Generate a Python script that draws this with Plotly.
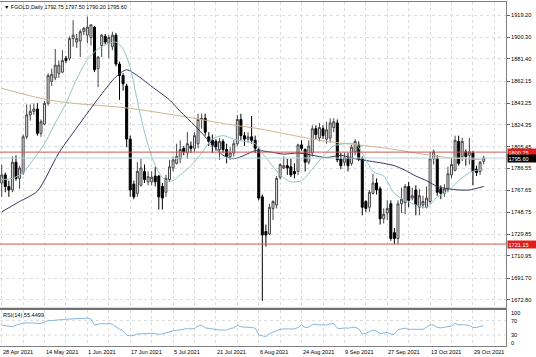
import plotly.graph_objects as go

# ---------------- data ----------------
opens = [
    1774, 1781, 1771, 1768, 1792, 1778, 1783, 1814, 1833, 1836,
    1838, 1817, 1825, 1843, 1862, 1865, 1869, 1870, 1882, 1882,
    1899, 1896, 1897, 1905, 1902, 1900, 1909, 1873, 1893, 1901,
    1895, 1892, 1902, 1877, 1867, 1858, 1812, 1773, 1765, 1772,
    1784, 1775, 1775, 1780, 1780, 1771, 1766, 1777, 1787, 1791,
    1795, 1804, 1800, 1806, 1804, 1808, 1829, 1830, 1814, 1811,
    1810, 1803, 1810, 1803, 1797, 1800, 1808, 1829, 1815, 1812,
    1814, 1811, 1803, 1762, 1732, 1730, 1752, 1755, 1779, 1787,
    1789, 1788, 1784, 1784, 1807, 1803, 1792, 1800, 1821, 1813,
    1821, 1812, 1813, 1822, 1826, 1795, 1792, 1796, 1791, 1801,
    1807, 1795, 1758, 1753, 1765, 1774, 1769, 1743, 1748, 1756,
    1731, 1726, 1756, 1757, 1771, 1761, 1768, 1753, 1755, 1753,
    1758, 1795, 1795, 1769, 1765, 1768, 1781, 1785, 1810, 1797,
    1801, 1798, 1800, 1786, 1784, 1792.75]
highs = [
    1790, 1783, 1776, 1797, 1798, 1789, 1816, 1842, 1842, 1843,
    1843, 1829, 1845, 1869, 1873, 1890, 1880, 1889, 1884, 1901,
    1915, 1903, 1907, 1909, 1918, 1911, 1910, 1884, 1903, 1903,
    1902, 1905, 1904, 1879, 1869, 1860, 1815, 1776, 1792, 1795,
    1790, 1784, 1784, 1788, 1781, 1774, 1781, 1794, 1797, 1808,
    1811, 1806, 1818, 1810, 1818, 1834, 1834, 1834, 1818, 1816,
    1812, 1813, 1812, 1808, 1805, 1811, 1833, 1834, 1818, 1818,
    1832, 1815, 1805, 1764, 1738, 1756, 1759, 1780, 1791, 1797,
    1795, 1795, 1791, 1808, 1811, 1804, 1811, 1824, 1824, 1826,
    1824, 1827, 1830, 1830, 1829, 1800, 1800, 1800, 1807, 1812,
    1810, 1797, 1759, 1768, 1782, 1778, 1771, 1752, 1759, 1759,
    1735, 1759, 1770, 1773, 1775, 1770, 1772, 1769, 1763, 1771,
    1801, 1803, 1798, 1772, 1773, 1788, 1796, 1815, 1815, 1813,
    1803, 1813, 1802, 1789, 1793, 1797.50]
lows = [
    1762, 1766, 1762, 1766, 1776, 1769, 1781, 1812, 1828, 1833,
    1815, 1814, 1824, 1841, 1858, 1863, 1865, 1869, 1878, 1880,
    1892, 1891, 1883, 1902, 1895, 1893, 1870, 1857, 1883, 1894,
    1882, 1889, 1875, 1846, 1854, 1805, 1762, 1760, 1762, 1771,
    1774, 1772, 1772, 1771, 1751, 1751, 1762, 1775, 1784, 1790,
    1791, 1798, 1795, 1800, 1801, 1804, 1821, 1815, 1806, 1800,
    1802, 1794, 1800, 1791, 1794, 1797, 1806, 1811, 1806, 1809,
    1808, 1800, 1759, 1672, 1719, 1729, 1742, 1752, 1777, 1786,
    1781, 1779, 1778, 1781, 1802, 1784, 1790, 1797, 1812, 1810,
    1812, 1808, 1809, 1818, 1792, 1786, 1789, 1784, 1789, 1798,
    1793, 1746, 1749, 1749, 1764, 1764, 1738, 1739, 1742, 1724,
    1721, 1721, 1748, 1747, 1753, 1759, 1746, 1746, 1752, 1752,
    1756, 1790, 1763, 1760, 1762, 1766, 1778, 1784, 1789, 1793,
    1789, 1790, 1772, 1780, 1781, 1790.20]
closes = [
    1781, 1771, 1768, 1792, 1778, 1787, 1814, 1833, 1836, 1838,
    1817, 1827, 1843, 1867, 1868, 1876, 1876, 1880, 1880, 1899,
    1902, 1899, 1905, 1908, 1909, 1911, 1872, 1883, 1902, 1896,
    1900, 1902, 1877, 1867, 1860, 1812, 1768, 1762, 1784, 1787,
    1777, 1779.5, 1779, 1775, 1762, 1761, 1778, 1788, 1794, 1797,
    1803, 1801, 1808, 1804, 1815, 1829, 1830, 1818, 1810, 1807,
    1805.5, 1810, 1803, 1797, 1800, 1808, 1829, 1815, 1812, 1814,
    1811, 1804, 1761, 1729, 1729, 1753, 1758, 1778, 1790, 1789,
    1787, 1781, 1782, 1807, 1804, 1792, 1806, 1821, 1816, 1822,
    1815, 1820, 1826, 1827, 1794, 1789, 1796, 1789, 1805, 1810,
    1795, 1753, 1752, 1766, 1774, 1768, 1743, 1747, 1752, 1726,
    1726, 1756, 1760, 1771, 1759, 1763, 1755, 1763, 1758, 1761,
    1795, 1801, 1766, 1765, 1769, 1782, 1790, 1811, 1791, 1810,
    1797, 1801, 1784, 1783, 1792, 1795.60]

# moving-average lines (bar index, price)
fast_i = [0, 3, 6, 9, 12, 15, 18, 21, 24, 27, 30, 32, 34, 36, 38, 40, 42, 44, 46, 48,
          50, 53, 56, 59, 62, 65, 68, 71, 73, 75, 78, 81, 84, 87, 90, 93, 96, 99, 101,
          104, 107, 110, 113, 116, 119, 122, 125, 128, 131, 133, 135]
fast_v = [1777, 1778, 1783, 1795, 1808, 1826, 1843, 1864, 1881, 1890, 1895, 1896, 1890,
          1874, 1845, 1818, 1797, 1783, 1776, 1776, 1781, 1789, 1800, 1812, 1815, 1812,
          1810, 1808, 1800, 1792, 1781, 1775, 1776, 1786, 1797, 1806, 1808, 1808, 1800,
          1784, 1780, 1765, 1759, 1755, 1753, 1762, 1767, 1776, 1783, 1785, 1786]
slow_i = [0, 5, 10, 16, 22, 27, 32, 35, 38, 41, 44, 47, 50, 54, 57, 60, 62, 65, 68, 71,
          75, 79, 83, 87, 91, 95, 99, 103, 107, 110, 113, 116, 119, 122, 125, 128, 131, 135]
slow_v = [1749, 1758, 1767, 1800, 1826, 1847, 1866, 1872, 1867, 1860, 1853, 1846, 1836,
          1824, 1814, 1804, 1798, 1795, 1798, 1802, 1801, 1799, 1800, 1798, 1796, 1798,
          1795, 1793, 1791, 1789, 1785, 1780, 1776, 1771, 1769, 1768, 1768, 1771]
long_i = [0, 6, 13, 20, 35, 54, 63, 72, 89, 108, 116, 125, 135]
long_v = [1856, 1851, 1846, 1843, 1839, 1830, 1825, 1821, 1811, 1804, 1800, 1796, 1794]

rsi = [58, 56, 54, 53, 57, 61, 63, 64, 64, 64,
       62, 62, 66, 70, 70, 72, 72, 73, 74, 75,
       76, 75, 76, 76, 77, 74, 58, 60, 62, 61,
       62, 60, 52, 46, 42, 30, 28, 29, 33, 34,
       34, 35, 35, 34, 32, 33, 36, 40, 42, 43,
       45, 46, 48, 47, 48, 55, 57, 50, 48, 47,
       46, 44, 44, 44, 48, 50, 57, 53, 52, 52,
       51, 49, 31, 28, 26, 34, 38, 44, 46, 47,
       47, 46, 47, 51, 58, 51, 52, 59, 60, 58,
       58, 58, 61, 62, 49, 48, 50, 49, 51, 52,
       47, 33, 35, 40, 44, 41, 34, 36, 38, 33,
       32, 45, 46, 49, 46, 47, 46, 46, 46, 52,
       58, 58, 51, 50, 51, 54, 55, 62, 58, 59,
       57, 57, 51, 51, 54, 55.4499]

date_ticks = [0, 12, 24, 36, 48, 60, 72, 84, 96, 108, 120, 132]
date_labels = ["28 Apr 2021", "14 May 2021", "1 Jun 2021", "17 Jun 2021", "5 Jul 2021",
               "21 Jul 2021", "6 Aug 2021", "24 Aug 2021", "9 Sep 2021", "27 Sep 2021",
               "13 Oct 2021", "29 Oct 2021"]
grid_ticks = list(range(0, 142, 6))
price_ticks = [1919.20, 1900.30, 1881.40, 1862.15, 1843.25, 1824.35, 1805.45,
               1786.55, 1767.65, 1748.75, 1729.85, 1710.95, 1691.70, 1672.80]
levels = [1800.75, 1721.15]
rsi_levels = [70, 30]

# ---------------- figure ----------------
n = len(closes)
bars = list(range(n))
FONT = "Liberation Sans, Arial, sans-serif"
FS = 5.6

fig = go.Figure()
fig.add_trace(go.Candlestick(
    x=bars, open=opens, high=highs, low=lows, close=closes,
    increasing=dict(line=dict(color="#474747", width=1), fillcolor="#e2e2e2"),
    decreasing=dict(line=dict(color="#000000", width=1), fillcolor="#000000"),
    whiskerwidth=0, hoverinfo="skip", showlegend=False, xaxis="x", yaxis="y"))

for xs, ys, col in [(long_i, long_v, "#ccb491"),
                    (slow_i, slow_v, "#35355a"),
                    (fast_i, fast_v, "#94c4c4")]:
    fig.add_trace(go.Scatter(x=xs, y=ys, mode="lines",
                             line=dict(color=col, width=1, shape="spline", smoothing=0.7),
                             hoverinfo="skip", showlegend=False, xaxis="x", yaxis="y"))

fig.add_trace(go.Scatter(x=bars, y=rsi, mode="lines",
                         line=dict(color="#88b6da", width=1),
                         hoverinfo="skip", showlegend=False, xaxis="x2", yaxis="y2"))

shapes = []
for lv in levels:
    shapes.append(dict(type="line", xref="paper", x0=0, x1=1, yref="y", y0=lv, y1=lv,
                       line=dict(color="#c85a55", width=1), layer="above"))
shapes.append(dict(type="line", xref="paper", x0=0, x1=1, yref="y",
                   y0=closes[-1], y1=closes[-1],
                   line=dict(color="#b9d3dc", width=1), layer="above"))
for lv in rsi_levels:
    shapes.append(dict(type="line", xref="paper", x0=0, x1=1, yref="y2", y0=lv, y1=lv,
                       line=dict(color="#dadada", width=1, dash="dot"), layer="below"))
# separator between the two panels
shapes.append(dict(type="line", xref="paper", x0=0, x1=1, yref="paper",
                   y0=0.1081, y1=0.1081, line=dict(color="#6f6f6f", width=2)))

ann = []
ann.append(dict(xref="paper", yref="paper", x=0, y=1, xanchor="left", yanchor="top",
                xshift=2, yshift=0, showarrow=False,
                text="▼ FGOLD,Daily %.2f %.2f %.2f %.2f" % (opens[-1], highs[-1], lows[-1], closes[-1]),
                font=dict(family=FONT, size=5.4, color="#000000")))
ann.append(dict(xref="paper", yref="paper", x=0, y=0.1055, xanchor="left", yanchor="top",
                xshift=1, yshift=0, showarrow=False,
                text="RSI(14) %.4f" % rsi[-1],
                font=dict(family=FONT, size=FS, color="#000000")))
for t, lab in zip(date_ticks, date_labels):
    ann.append(dict(xref="x2", yref="paper", x=t, y=0, xanchor="left", yanchor="top",
                    xshift=-1, yshift=-1, showarrow=False, text=lab,
                    font=dict(family=FONT, size=FS, color="#000000")))
# level labels on the price scale
for lv in levels:
    ann.append(dict(xref="paper", yref="y", x=1, y=lv, xanchor="left", yanchor="middle",
                    xshift=1, showarrow=False, text="%.2f" % lv, width=27, align="left",
                    bgcolor="#e21c1c", borderpad=0.5,
                    font=dict(family=FONT, size=FS, color="#ffffff")))
ann.append(dict(xref="paper", yref="y", x=1, y=closes[-1], xanchor="left", yanchor="middle",
                xshift=1, showarrow=False, text="%.2f" % closes[-1], width=27, align="left",
                bgcolor="#000000", borderpad=0.5,
                font=dict(family=FONT, size=FS, color="#ffffff")))
# RSI scale labels
for val, pos in [("100", 90.5), ("70", 70), ("30", 30), ("0", 9.5)]:
    ann.append(dict(xref="paper", yref="y2", x=1, y=pos, xanchor="left", yanchor="middle",
                    xshift=3, showarrow=False, text=val,
                    font=dict(family=FONT, size=FS, color="#000000")))

xr = [-0.48, 141.26]
axis_line = dict(showline=True, mirror=True, linecolor="#808080", linewidth=1, zeroline=False)
fig.update_layout(
    width=536, height=357,
    margin=dict(l=0, r=30, t=2, b=11),
    paper_bgcolor="#ffffff", plot_bgcolor="#ffffff",
    boxgap=0.2, hovermode=False, showlegend=False,
    shapes=shapes, annotations=ann,
    xaxis=dict(domain=[0, 1], anchor="y", range=xr, tickvals=grid_ticks,
               showticklabels=False, ticks="", showgrid=True, gridcolor="#dcdcdc",
               griddash="dot", gridwidth=1, rangeslider=dict(visible=False), **axis_line),
    yaxis=dict(domain=[0.1105, 1], anchor="x", side="right", range=[1665.8, 1930.7],
               tickvals=price_ticks, ticktext=["%.2f" % v for v in price_ticks],
               ticks="outside", ticklen=3, tickcolor="#606060",
               tickfont=dict(family=FONT, size=FS, color="#000000"),
               showgrid=True, gridcolor="#dcdcdc", griddash="dot", gridwidth=1,
               **axis_line),
    xaxis2=dict(domain=[0, 1], anchor="y2", range=xr, matches="x", tickvals=grid_ticks,
                showticklabels=False, ticks="", showgrid=True, gridcolor="#dcdcdc",
                griddash="dot", gridwidth=1, **axis_line),
    yaxis2=dict(domain=[0, 0.1055], anchor="x2", side="right", range=[0, 100],
                showticklabels=False, ticks="", showgrid=False, **axis_line),
)

fig.write_html("out.html", config={"displayModeBar": False})
